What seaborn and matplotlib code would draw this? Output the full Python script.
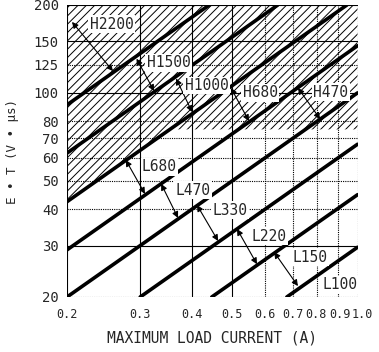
import numpy as np
import pandas as pd
import matplotlib
matplotlib.use('Agg')
import matplotlib.pyplot as plt
import matplotlib.transforms as mtransforms
import seaborn as sns

sns.set_style('white')
plt.rcParams['font.family'] = ['DejaVu Sans Mono', 'DejaVu Sans']
plt.rcParams['hatch.linewidth'] = 0.7

# boundary lines (E*T vs load current), endpoints
line_start_current = [0.676, 0.446, 0.3, 0.2, 0.2, 0.2, 0.2, 0.2]
line_start_et = [20, 20, 20, 20, 29, 42.4, 62.2, 91]
line_end_current = [1.0, 1.0, 1.0, 1.0, 1.0, 0.943, 0.643, 0.44]
line_end_et = [29.6, 44.8, 66.7, 100, 145, 200, 200, 200]

# hatched (H-series) region lower boundary
hatch_current = [0.2, 0.354, 1.0]
hatch_et = [42.4, 75, 75]

x_ticks = [0.2, 0.3, 0.4, 0.5, 0.6, 0.7, 0.8, 0.9, 1.0]
x_tick_labels = ['0.2', '0.3', '0.4', '0.5', '0.6', '0.7', '0.8', '0.9', '1.0']
y_ticks = [20, 30, 40, 50, 60, 70, 80, 100, 125, 150, 200]
x_solid = [0.2, 0.3, 0.4, 0.5]
y_solid = [30, 100, 150, 200]

region_names = ['H2200', 'H1500', 'H1000', 'H680', 'H470',
                'L680', 'L470', 'L330', 'L220', 'L150', 'L100']
label_pos = [(0.227, 172), (0.311, 127), (0.384, 106), (0.530, 100), (0.782, 100.7),
             (0.303, 55.8), (0.364, 46.5), (0.447, 39.7), (0.557, 32.3), (0.696, 27.4),
             (0.822, 22.0)]
arrow_from = [(0.2056, 175), (0.294, 131), (0.366, 112), (0.496, 104), (0.719, 104),
              (0.277, 58.9), (0.337, 48.8), (0.411, 41.3), (0.513, 34.2), (0.630, 28.5),
              None]
arrow_to = [(0.258, 118.8), (0.324, 101.5), (0.400, 86), (0.548, 80.1), (0.813, 81.4),
            (0.308, 45.1), (0.370, 37.3), (0.462, 31.1), (0.573, 25.9), (0.719, 21.8),
            None]

rows = []
for i in range(len(line_start_et)):
    rows.append({'line': i, 'current': line_start_current[i], 'et': line_start_et[i]})
    rows.append({'line': i, 'current': line_end_current[i], 'et': line_end_et[i]})
lines_df = pd.DataFrame(rows)

fig = plt.figure(figsize=(3.79, 3.52), dpi=100)
ax = fig.add_axes([67 / 379, 1 - 297 / 352, 290.5 / 379, 292 / 352])
ax.set_xscale('log')
ax.set_yscale('log')
ax.set_xlim(0.2, 1.0)
ax.set_ylim(20, 200)

# hatched area
ax.fill_between(hatch_current, hatch_et, 200, facecolor='none', edgecolor='black',
                hatch='////', linewidth=0, zorder=1)

# grid
for xv in x_ticks:
    ls = '-' if xv in x_solid else (0, (1, 1))
    ax.axvline(xv, color='black', lw=0.8, ls=ls, zorder=2)
for yv in y_ticks:
    ls = '-' if yv in y_solid else (0, (1, 1))
    ax.axhline(yv, color='black', lw=0.8, ls=ls, zorder=2)

sns.lineplot(data=lines_df, x='current', y='et', units='line', estimator=None,
             color='black', lw=2.6, sort=False, ax=ax, zorder=3)

for name, pos, a0, a1 in zip(region_names, label_pos, arrow_from, arrow_to):
    if a0 is not None:
        ax.annotate('', xy=a1, xytext=a0,
                    arrowprops=dict(arrowstyle='<|-|>', color='black', lw=0.8,
                                    mutation_scale=9, shrinkA=0, shrinkB=0),
                    zorder=4)
    ax.text(pos[0], pos[1], name, ha='left', va='center', fontsize=10.5, zorder=5,
            bbox=dict(facecolor='white', edgecolor='none', pad=1))

for s in ax.spines.values():
    s.set_visible(False)

ax.set_xticks(x_ticks)
ax.set_xticklabels(x_tick_labels)
ax.set_yticks(y_ticks)
ax.set_yticklabels([str(v) for v in y_ticks])
ax.minorticks_off()
ax.tick_params(axis='x', length=0, pad=8, labelsize=8.5)
ax.tick_params(axis='y', length=0, pad=6, labelsize=10)

# nudge the crowded right-hand tick labels apart
xlabels = ax.get_xticklabels()
for lab, dx in zip(xlabels[-3:], [-1, 1, 5]):
    lab.set_transform(lab.get_transform() + mtransforms.ScaledTranslation(dx / 100, 0, fig.dpi_scale_trans))

ax.set_xlabel('MAXIMUM LOAD CURRENT (A)', fontsize=10.5, labelpad=7)
ax.set_ylabel('E • T (V • μs)', fontsize=9)
ax.yaxis.set_label_coords(-0.165, 0.5)

fig.savefig('out.png', dpi=100)
